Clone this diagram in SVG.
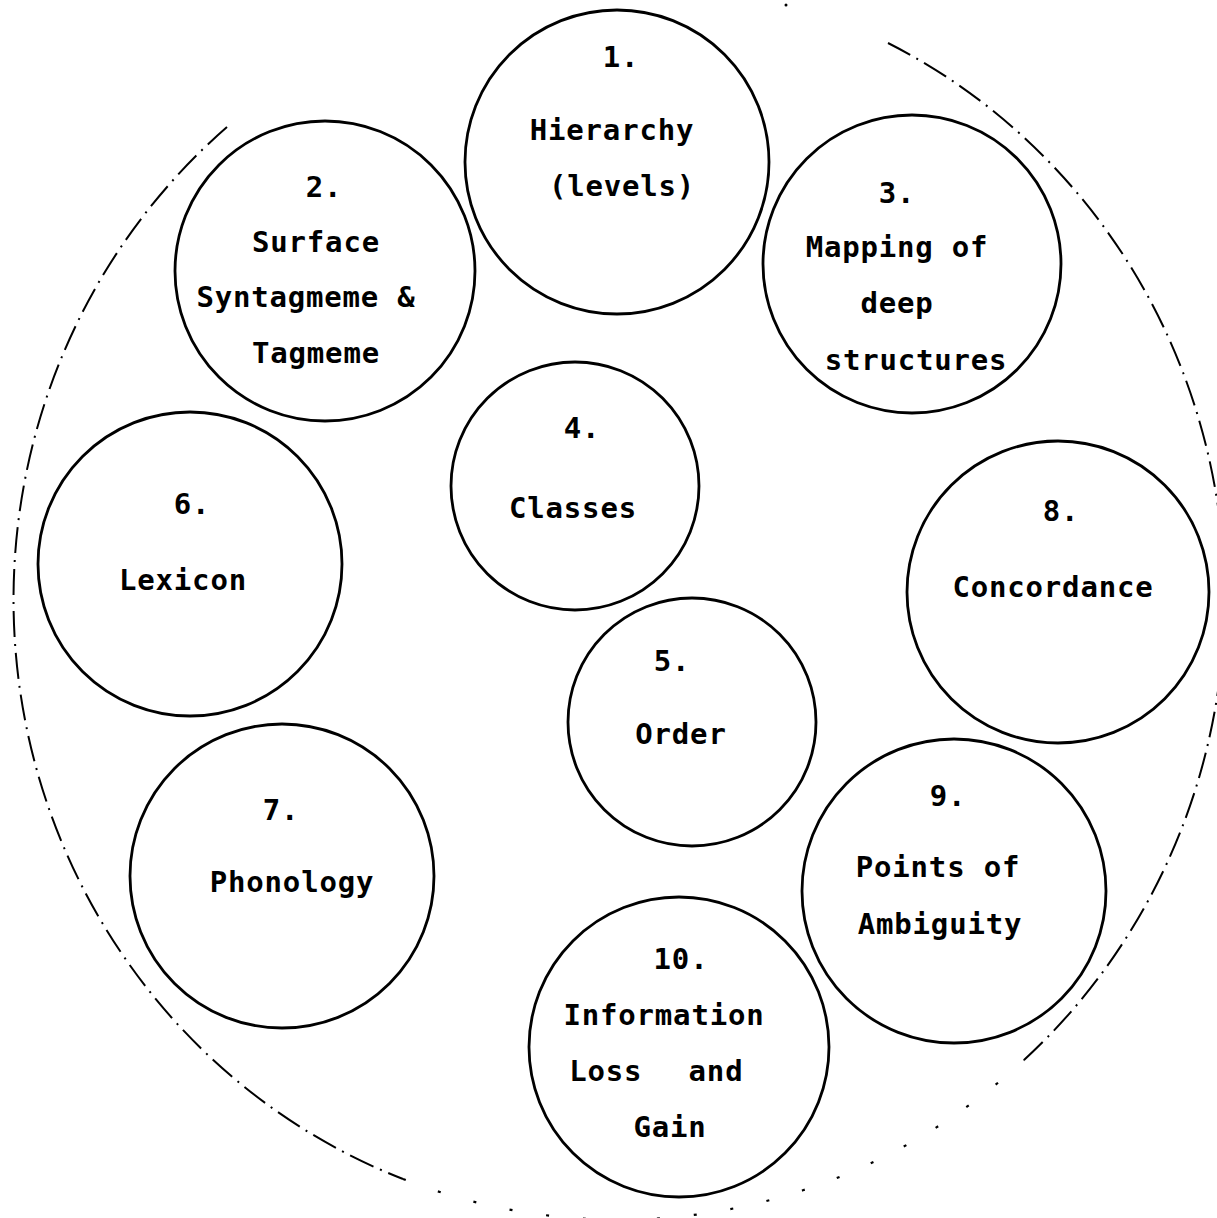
<svg xmlns="http://www.w3.org/2000/svg" width="1217" height="1218" viewBox="0 0 1217 1218">
<style>
.c{fill:none;stroke:#000;stroke-width:2.8}
.t{font-family:"DejaVu Sans Mono","Liberation Mono",monospace;font-weight:bold;font-size:29px;text-anchor:middle;letter-spacing:0.8px;fill:#000}
.o{fill:none;stroke:#000;stroke-width:2;stroke-dasharray:26 7 2 7}
.os{fill:none;stroke:#000;stroke-width:2.2;stroke-dasharray:3 34}
</style>
<rect width="1217" height="1218" fill="#fff"/>
<g id="outline">
<path class="o" d="M227,127 A605,620 0 0 0 403,1179"/>
<path class="os" d="M403,1179 A605,620 0 0 0 1024,1060"/>
<path class="o" d="M1024,1060 A605,620 0 0 0 888,43"/>
<circle cx="786" cy="5" r="1.5" fill="#000"/>
</g>
<g id="connectors"></g>
<g id="node1">
<circle class="c" cx="617" cy="162" r="152"/>
<text class="t" x="621" y="67">1.</text>
<text class="t" x="612" y="140">Hierarchy</text>
<text class="t" x="622" y="196">(levels)</text>
</g>
<g id="node2">
<circle class="c" cx="325" cy="271" r="150"/>
<text class="t" x="324" y="197">2.</text>
<text class="t" x="316" y="252">Surface</text>
<text class="t" x="306" y="307">Syntagmeme &amp;</text>
<text class="t" x="316" y="363">Tagmeme</text>
</g>
<g id="node3">
<circle class="c" cx="912" cy="264" r="149"/>
<text class="t" x="897" y="203">3.</text>
<text class="t" x="897" y="257">Mapping of</text>
<text class="t" x="897" y="313">deep</text>
<text class="t" x="916" y="370">structures</text>
</g>
<g id="node4">
<circle class="c" cx="575" cy="486" r="124"/>
<text class="t" x="582" y="438">4.</text>
<text class="t" x="573" y="518">Classes</text>
</g>
<g id="node5">
<circle class="c" cx="692" cy="722" r="124"/>
<text class="t" x="672" y="671">5.</text>
<text class="t" x="681" y="744">Order</text>
</g>
<g id="node6">
<circle class="c" cx="190" cy="564" r="152"/>
<text class="t" x="192" y="514">6.</text>
<text class="t" x="183" y="590">Lexicon</text>
</g>
<g id="node7">
<circle class="c" cx="282" cy="876" r="152"/>
<text class="t" x="281" y="820">7.</text>
<text class="t" x="292" y="892">Phonology</text>
</g>
<g id="node8">
<circle class="c" cx="1058" cy="592" r="151"/>
<text class="t" x="1061" y="521">8.</text>
<text class="t" x="1053" y="597">Concordance</text>
</g>
<g id="node9">
<circle class="c" cx="954" cy="891" r="152"/>
<text class="t" x="948" y="806">9.</text>
<text class="t" x="938" y="877">Points of</text>
<text class="t" x="940" y="934">Ambiguity</text>
</g>
<g id="node10">
<circle class="c" cx="679" cy="1047" r="150"/>
<text class="t" x="681" y="969">10.</text>
<text class="t" x="664" y="1025">Information</text>
<text class="t"><tspan x="615" y="1081">Loss</tspan> <tspan x="716" y="1081">and</tspan></text>
<text class="t" x="670" y="1137">Gain</text>
</g>
</svg>
